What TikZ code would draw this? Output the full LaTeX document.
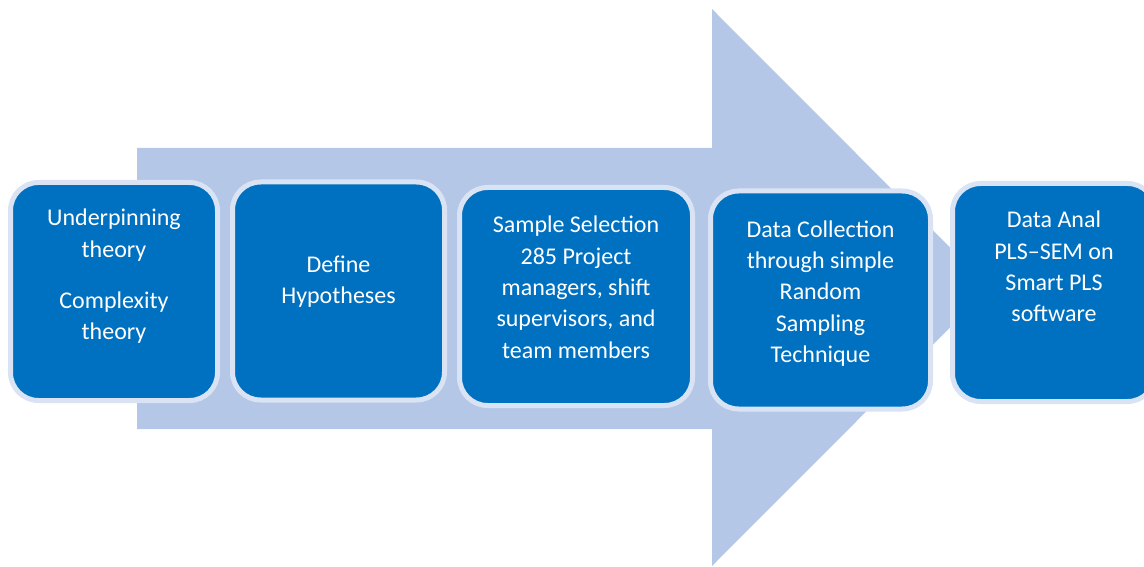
\documentclass[tikz,border=0pt]{standalone}
\usepackage{fontspec}
\setmainfont{Carlito}
\usetikzlibrary{positioning}
\definecolor{stageBlue} {RGB}{0,  112, 192}
\definecolor{rimBlue}   {RGB}{218, 227, 243}
\definecolor{flowBlue}  {RGB}{180, 199, 231}
\tikzset{
  stage/.style = {rectangle, rounded corners=28pt, draw=rimBlue, fill=stageBlue,
                  line width=5pt, inner sep=0pt, minimum width=#1,
                  minimum height=218pt},
  txt/.style   = {text=white, align=center, inner sep=0pt,
                  font=\fontsize{24}{31.3}\selectfont},
}

\begin{document}
\begin{tikzpicture}[x=1pt, y=1pt]
\clip (0,0) rectangle (1144,566);

% ---- Background process arrow -----------------------------------------------
\fill[flowBlue] (137,418) -- (712,418) -- (712,557) -- (990,278.5)
  -- (712,0) -- (712,137) -- (137,137) -- cycle;

% ---- Stages -----------------------------------------------------------------
\node[stage=207pt] (theory) at (114,274.5) {};
\node[stage=212pt, right=10pt of theory, yshift=0.5pt] (hypo) {};
\node[stage=233pt, right=10pt of hypo, yshift=-5.5pt] (sample) {};
\node[stage=220pt, right=13pt of sample, yshift=-3.5pt] (collect) {};
\node[stage=203pt, right=17pt of collect, yshift=7.5pt] (analysis) {};

% ---- Stage texts ------------------------------------------------------------
\node[txt, below=29pt of theory.north] (theorytxt)
  {Underpinning\\theory\\[20pt]Complexity\\theory};
\node[txt, below=76pt of hypo.north] (hypotxt) {Define\\Hypotheses};
\node[txt, below=31pt of sample.north] (sampletxt)
  {Sample Selection\\285 Project\\managers, shift\\supervisors, and\\team members};
\node[txt, below=32pt of collect.north] (collecttxt)
  {Data Collection\\through simple\\Random\\Sampling\\Technique};
\node[txt, below=30pt of analysis.north] (analysistxt)
  {Data Anal\\PLS–SEM on\\Smart PLS\\software};

\end{tikzpicture}
\end{document}
